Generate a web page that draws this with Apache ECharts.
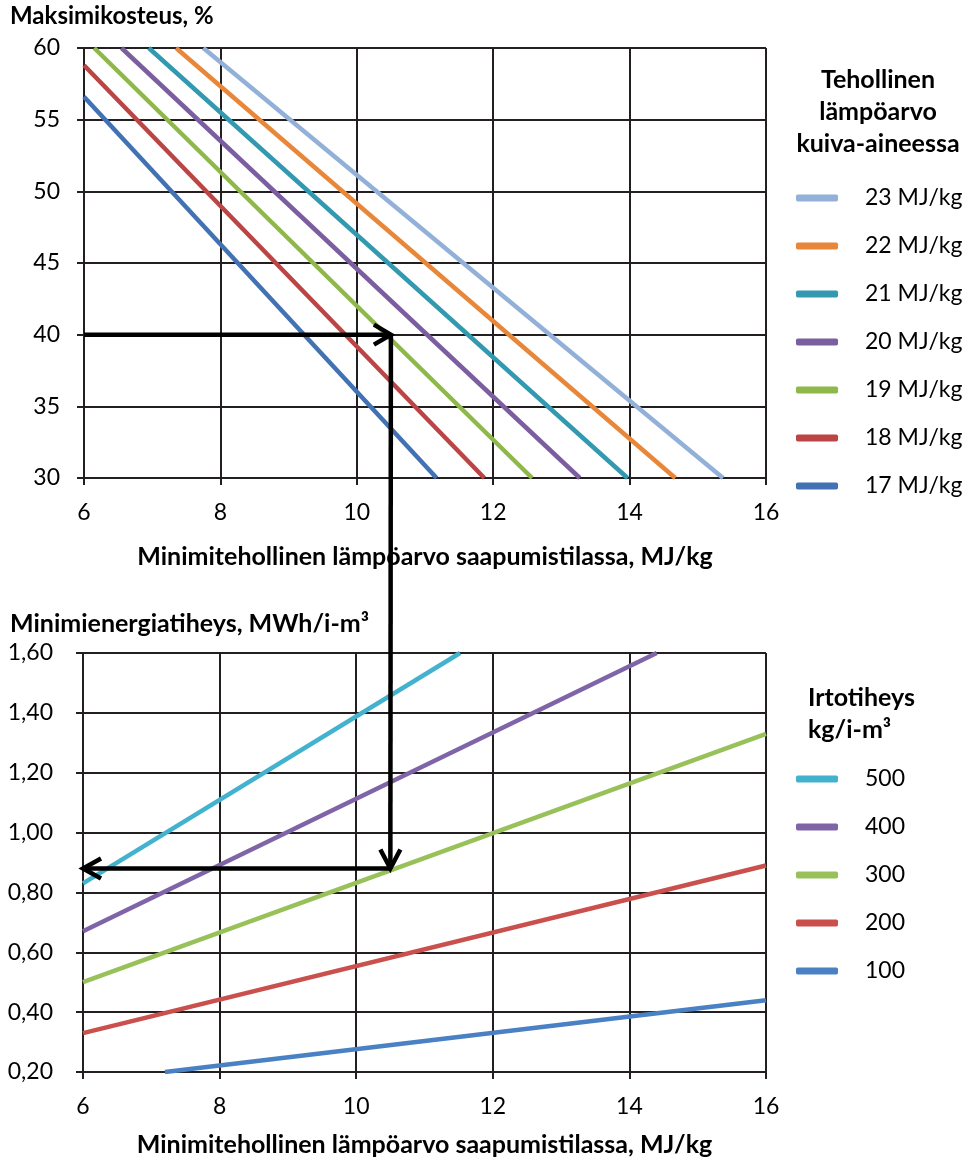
<!DOCTYPE html>
<html>
<head>
<meta charset="utf-8">
<script src="https://cdn.jsdelivr.net/npm/echarts@6/dist/echarts.min.js"></script>
<style>
html,body{margin:0;padding:0;background:#fff;}
#chart{width:966px;height:1162px;}
</style>
</head>
<body>
<div id="chart"></div>
<script>
// ---- Data ----
// Top chart: max moisture (%) vs. min effective heating value at arrival (MJ/kg)
var topNames = ['23 MJ/kg', '22 MJ/kg', '21 MJ/kg', '20 MJ/kg', '19 MJ/kg', '18 MJ/kg', '17 MJ/kg'];
var topColors = ['#92b0d8', '#e8873a', '#3299b0', '#7b5ea0', '#8fb84a', '#bb4444', '#4272b3'];
var top23 = [[7.75, 60], [15.37, 30]];
var top22 = [[7.35, 60], [14.67, 30]];
var top21 = [[6.95, 60], [13.97, 30]];
var top20 = [[6.55, 60], [13.27, 30]];
var top19 = [[6.15, 60], [12.57, 30]];
var top18 = [[6, 58.8], [11.87, 30]];
var top17 = [[6, 56.6], [11.17, 30]];
var topSeriesData = [top23, top22, top21, top20, top19, top18, top17];

// Bottom chart: min energy density (MWh/i-m3) vs. heating value
var botNames = ['500', '400', '300', '200', '100'];
var botColors = ['#43b2cf', '#8064a8', '#99c15a', '#c9504d', '#4a80c4'];
var bot500 = [[6, 0.83], [11.52, 1.60]];
var bot400 = [[6, 0.67], [14.4, 1.60]];
var bot300 = [[6, 0.50], [16, 1.33]];
var bot200 = [[6, 0.33], [16, 0.89]];
var bot100 = [[7.2, 0.20], [16, 0.44]];
var botSeriesData = [bot500, bot400, bot300, bot200, bot100];

// Example reading (arrows)
var exampleMoisture = 40;
var exampleHeating = 10.5;
var exampleDensity = 0.88;

var xTicks = {min: 6, max: 16, interval: 2};
var yTopTicks = {min: 30, max: 60, interval: 5};
var yBotTicks = {min: 0.2, max: 1.6, interval: 0.2};

// ---- Chart ----
var FONT = 'Lato';
var GRIDC = '#231f20';
var chart = echarts.init(document.getElementById('chart'), null, {renderer: 'canvas'});

function xAxisCfg(gi, nameGap) {
  return {
    type: 'value', gridIndex: gi, min: xTicks.min, max: xTicks.max, interval: xTicks.interval,
    name: 'Minimitehollinen lämpöarvo saapumistilassa, MJ/kg',
    nameLocation: 'middle', nameGap: nameGap,
    nameTextStyle: {fontFamily: FONT, fontWeight: 'bold', fontSize: 25, color: '#000'},
    axisLine: {show: true, onZero: false, lineStyle: {color: GRIDC, width: 2}},
    axisTick: {show: true, inside: false, length: 7, lineStyle: {color: GRIDC, width: 2}},
    axisLabel: {fontFamily: FONT, fontSize: 23, color: '#000', margin: 23},
    splitLine: {show: true, lineStyle: {color: GRIDC, width: 2}}
  };
}
function yAxisCfg(gi, t, fmt, margin) {
  return {
    type: 'value', gridIndex: gi, min: t.min, max: t.max, interval: t.interval,
    axisLine: {show: true, onZero: false, lineStyle: {color: GRIDC, width: 2}},
    axisTick: {show: true, inside: false, length: 7, lineStyle: {color: GRIDC, width: 2}},
    axisLabel: {fontFamily: FONT, fontSize: 23, color: '#000', margin: margin, formatter: fmt},
    splitLine: {show: true, lineStyle: {color: GRIDC, width: 2}}
  };
}

var series = [];
topSeriesData.forEach(function (d, i) {
  series.push({
    name: topNames[i], type: 'line', xAxisIndex: 0, yAxisIndex: 0, data: d,
    symbol: 'none', silent: true, lineStyle: {color: topColors[i], width: 4.5}, itemStyle: {color: topColors[i]}
  });
});
botSeriesData.forEach(function (d, i) {
  series.push({
    name: botNames[i], type: 'line', xAxisIndex: 1, yAxisIndex: 1, data: d,
    symbol: 'none', silent: true, lineStyle: {color: botColors[i], width: 4.5}, itemStyle: {color: botColors[i]}
  });
});

function legendCfg(names, top) {
  return {
    data: names, orient: 'vertical', left: 796, top: top, padding: 0,
    icon: 'roundRect', itemWidth: 42, itemHeight: 7, itemGap: 22,
    selectedMode: false,
    textStyle: {fontFamily: FONT, fontSize: 23, color: '#000', lineHeight: 26, padding: [0, 0, 0, 22]}
  };
}

var option = {
  animation: false,
  backgroundColor: '#fff',
  grid: [
    {left: 84, right: 200, top: 48, height: 430},
    {left: 83, right: 200, top: 653, height: 419}
  ],
  xAxis: [xAxisCfg(0, 66), xAxisCfg(1, 60)],
  yAxis: [
    yAxisCfg(0, yTopTicks, function (v) { return String(v); }, 24),
    yAxisCfg(1, yBotTicks, function (v) { return v.toFixed(2).replace('.', ','); }, 30)
  ],
  legend: [legendCfg(topNames, 185), legendCfg(botNames, 766)],
  series: series
};
chart.setOption(option);

// Arrows and titles, positioned through the chart's own scales
function px(gi, pt) { return chart.convertToPixel({gridIndex: gi}, pt); }
var a1 = px(0, [xTicks.min, exampleMoisture]);
var a2 = px(0, [exampleHeating, exampleMoisture]);
var a3 = px(1, [exampleHeating, exampleDensity]);
var a4 = px(1, [xTicks.min, exampleDensity]);
var arrowStyle = {stroke: '#000', lineWidth: 4.5, fill: null, lineCap: 'butt', lineJoin: 'miter'};
function line(pts) { return {type: 'polyline', shape: {points: pts}, style: arrowStyle, z: 100, silent: true}; }

chart.setOption({
  graphic: [
    line([a1, a2]),
    line([[a2[0] - 17, a2[1] - 10], a2, [a2[0] - 17, a2[1] + 10]]),
    line([a2, a3]),
    line([[a3[0] - 10, a3[1] - 19], a3, [a3[0] + 10, a3[1] - 19]]),
    line([a3, a4]),
    line([[a4[0] + 18, a4[1] - 10], a4, [a4[0] + 18, a4[1] + 10]]),
    {type: 'text', left: 10, top: 4, silent: true,
      style: {text: 'Maksimikosteus, %', font: 'bold 24px ' + FONT, fill: '#000'}},
    {type: 'text', left: 10, top: 611, silent: true,
      style: {text: 'Minimienergiatiheys, MWh/i-m³', font: 'bold 25px ' + FONT, fill: '#000'}},
    {type: 'text', x: 878, y: 64, silent: true,
      style: {text: 'Tehollinen\nlämpöarvo\nkuiva-aineessa', font: 'bold 25px ' + FONT, fill: '#000',
        align: 'center', lineHeight: 32}},
    {type: 'text', x: 808, y: 682, silent: true,
      style: {text: 'Irtotiheys\nkg/i-m³', font: 'bold 25px ' + FONT, fill: '#000', align: 'left', lineHeight: 32}}
  ]
});
</script>
</body>
</html>
